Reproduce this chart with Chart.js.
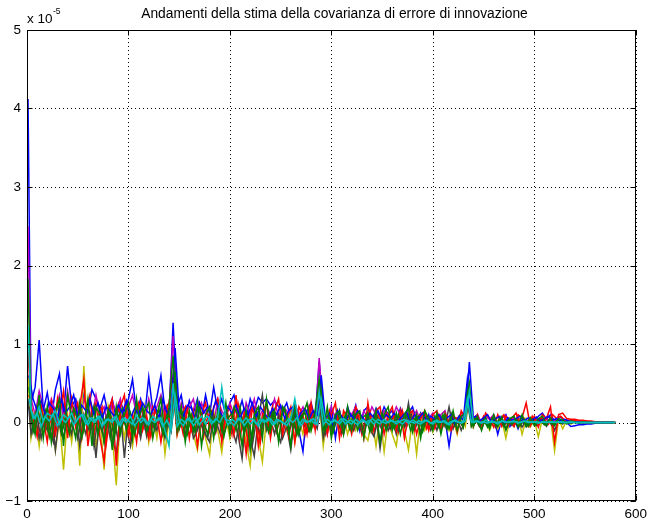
<!DOCTYPE html>
<html>
<head>
<meta charset="utf-8">
<script src="https://cdn.jsdelivr.net/npm/chart.js@4"></script>
<style>
  html, body { margin: 0; padding: 0; background: #fff; }
  #wrap { width: 652px; height: 523px; }
</style>
</head>
<body>
<div id="wrap"><canvas id="c" width="652" height="523"></canvas></div>
<script>
// Innovation-error covariance estimates, one trace per matrix element.
// Values are in units of 1e-5 (the axis carries the "x 10^-5" multiplier).

const titleText = 'Andamenti della stima della covarianza di errore di innovazione';
const xTicks = [0, 100, 200, 300, 400, 500, 600];
const yTicks = [-1, 0, 1, 2, 3, 4, 5];

// sample instants of the first group: 1, then every 4 steps up to 580
const sampleX = [1];
for (let k = 4; k <= 580; k += 4) sampleX.push(k);
// sample instants of the second group: 2, 6, 10, ... 578
const sampleX2 = [];
for (let k = 2; k <= 578; k += 4) sampleX2.push(k);

const covBlue = [
  4.12, 0.25, 0.45, 1.05, 0.15, 0.38, 0.05, 0.42, 0.62, 0.10,
  0.72, 0.20, 0.30, 0.08, 0.35, 0.12, 0.42, 0.30, 0.18, 0.35,
  0.10, 0.30, 0.05, 0.25, 0.15, 0.30, 0.55, 0.12, 0.30, 0.08,
  0.58, 0.15, 0.32, 0.60, 0.15, 0.10, 1.27, 0.20, 0.35, 0.05,
  0.28, 0.12, 0.30, 0.05, 0.35, 0.10, 0.45, 0.15, 0.30, 0.08,
  0.25, 0.35, 0.10, 0.28, 0.05, 0.30, 0.15, 0.32, 0.25, 0.30,
  0.22, 0.28, 0.20, 0.15, 0.25, 0.05, 0.20, -0.10, -0.37, 0.15,
  0.25, 0.05, 0.78, 0.10, -0.10, 0.20, -0.20, 0.15, -0.05, 0.20,
  0.05, 0.22, -0.10, 0.15, 0.20, 0.02, 0.18, 0.05, 0.20, 0.10,
  0.15, 0.00, 0.18, 0.05, 0.12, 0.20, 0.02, 0.12, -0.05, 0.10,
  -0.10, 0.08, -0.08, 0.05, -0.30, 0.05, -0.12, 0.08, 0.00, 0.77,
  0.05, 0.10, -0.08, 0.06, -0.05, 0.08, -0.15, 0.05, 0.10, -0.05,
  0.06, -0.08, 0.04, -0.05, 0.06, 0.02, 0.08, 0.12, 0.04, 0.10,
  0.02, 0.08, 0.05, 0.00, -0.05, -0.04, -0.03, -0.03, -0.02, -0.02,
  -0.01, -0.01, 0.00, 0.00, 0.00, 0.00
];

const covGreen = [
  1.83, 0.10, -0.15, 0.35, -0.20, 0.20, -0.25, 0.15, 0.30, -0.30,
  0.35, 0.05, -0.20, 0.25, -0.10, 0.30, -0.30, 0.20, 0.10, -0.25,
  0.15, -0.35, 0.20, -0.15, 0.10, 0.25, -0.20, 0.30, -0.10, 0.15,
  0.25, -0.20, 0.10, 0.30, -0.15, 0.20, 0.85, -0.10, 0.20, -0.25,
  0.15, -0.10, 0.25, -0.30, 0.10, 0.20, -0.20, 0.15, -0.10, 0.25,
  -0.15, 0.20, 0.10, -0.30, 0.15, -0.35, 0.10, 0.20, -0.20, 0.30,
  -0.10, 0.15, -0.25, 0.20, 0.10, -0.30, 0.20, -0.15, 0.10, 0.25,
  -0.10, 0.15, 0.55, -0.10, 0.20, -0.20, 0.10, 0.15, -0.15, 0.20,
  -0.10, 0.10, 0.15, -0.20, 0.12, -0.10, 0.15, -0.25, 0.10, 0.20,
  -0.10, 0.12, -0.15, 0.10, 0.18, -0.12, 0.10, -0.20, 0.15, 0.05,
  -0.10, 0.12, -0.15, 0.10, -0.08, 0.15, -0.10, 0.08, 0.12, 0.50,
  -0.05, 0.08, -0.10, 0.06, -0.08, 0.10, -0.05, 0.07, -0.10, 0.05,
  0.08, -0.06, 0.10, -0.05, 0.06, -0.04, 0.05, 0.08, -0.03, 0.06,
  -0.04, 0.05, 0.03, -0.02, 0.02, 0.01, -0.01, 0.01, 0.00, 0.00,
  0.00, 0.00, 0.00, 0.00, 0.00, 0.00
];

const covRed = [
  0.90, 0.20, -0.10, 0.30, 0.05, -0.25, 0.25, -0.15, 0.10, 0.40,
  -0.20, 0.30, -0.05, 0.20, 0.55, -0.30, 0.10, 0.25, -0.20, -0.50,
  0.15, 0.30, -0.55, 0.20, 0.35, -0.15, 0.10, -0.25, 0.25, 0.05,
  -0.20, 0.20, 0.10, -0.25, 0.15, 0.25, 0.60, -0.15, 0.10, 0.20,
  -0.20, 0.15, -0.30, 0.10, 0.25, -0.10, 0.20, 0.30, -0.25, 0.10,
  0.20, -0.15, 0.25, 0.05, -0.40, 0.15, 0.20, -0.30, 0.10, 0.25,
  -0.20, 0.15, 0.30, -0.15, 0.05, 0.20, -0.25, 0.20, 0.10, -0.15,
  0.25, -0.10, 0.45, 0.20, -0.15, 0.10, 0.25, -0.20, 0.15, 0.05,
  -0.15, 0.20, 0.10, -0.20, 0.25, -0.10, 0.15, 0.20, -0.15, 0.10,
  0.20, -0.10, 0.15, -0.20, 0.10, 0.15, -0.15, 0.05, 0.15, -0.10,
  0.10, 0.15, -0.10, 0.12, -0.05, 0.10, -0.12, 0.15, 0.05, 0.40,
  -0.05, 0.10, -0.08, 0.12, 0.05, -0.06, 0.10, -0.05, 0.08, 0.03,
  -0.05, 0.10, 0.06, 0.25, -0.04, 0.08, -0.06, 0.10, 0.05, 0.20,
  -0.25, 0.10, 0.12, 0.05, 0.04, 0.04, 0.03, 0.03, 0.02, 0.02,
  0.01, 0.01, 0.01, 0.00, 0.00, 0.00
];

const covCyan = [
  1.23, 0.15, 0.05, 0.20, 0.02, 0.12, 0.08, 0.15, -0.02, 0.10,
  0.05, 0.12, 0.00, 0.08, 0.10, -0.03, 0.06, 0.02, 0.08, -0.02,
  0.05, 0.00, 0.08, -0.04, 0.06, 0.02, -0.02, 0.10, 0.00, 0.05,
  -0.03, 0.08, 0.02, 0.06, -0.10, -0.30, 0.50, -0.05, 0.04, 0.00,
  0.06, -0.04, 0.03, 0.08, -0.02, 0.05, 0.00, 0.06, 0.45, 0.04,
  0.02, -0.04, 0.05, 0.00, 0.06, -0.02, 0.03, -0.05, 0.04, 0.01,
  0.05, -0.02, 0.03, 0.00, -0.04, 0.05, 0.30, -0.03, 0.04, 0.00,
  0.03, -0.02, 0.40, -0.03, 0.04, 0.00, 0.03, -0.02, 0.05, 0.01,
  -0.02, 0.04, 0.00, 0.03, -0.03, 0.05, 0.01, -0.02, 0.04, 0.00,
  0.03, -0.02, 0.02, 0.04, -0.01, 0.03, 0.00, -0.02, 0.03, 0.01,
  -0.02, 0.03, 0.00, 0.02, -0.03, 0.02, 0.01, -0.01, 0.02, 0.40,
  0.00, 0.02, -0.01, 0.03, 0.00, 0.01, -0.02, 0.02, 0.00, 0.01,
  0.02, -0.01, 0.01, 0.02, 0.00, 0.01, -0.01, 0.01, 0.00, 0.01,
  0.00, 0.01, 0.00, 0.00, 0.01, 0.00, 0.00, 0.00, 0.00, 0.00,
  0.00, 0.00, 0.00, 0.00, 0.00, 0.00
];

const covMagenta = [
  2.50, 0.30, 0.10, 0.40, 0.20, 0.05, 0.30, 0.15, 0.35, 0.05,
  0.40, 0.10, 0.25, -0.05, 0.30, 0.20, 0.05, 0.35, 0.10, 0.20,
  -0.05, 0.25, 0.15, 0.30, 0.05, 0.20, 0.35, 0.10, 0.25, -0.05,
  0.30, 0.10, 0.20, 0.35, 0.05, 0.15, 1.10, 0.05, 0.25, 0.10,
  0.20, 0.30, 0.05, 0.25, 0.10, 0.20, -0.05, 0.30, 0.15, 0.05,
  0.25, 0.10, 0.20, -0.05, 0.25, 0.10, 0.30, 0.05, 0.15, 0.20,
  0.10, 0.30, 0.05, 0.20, 0.15, -0.05, 0.25, 0.10, 0.20, 0.05,
  0.20, -0.05, 0.82, 0.10, -0.15, 0.20, 0.05, 0.15, -0.05, 0.15,
  0.10, 0.20, -0.05, 0.15, 0.05, 0.20, 0.10, -0.05, 0.15, 0.10,
  0.05, 0.20, 0.10, -0.05, 0.12, 0.05, 0.15, 0.00, 0.10, 0.05,
  0.12, 0.00, 0.10, 0.15, -0.05, 0.08, 0.05, 0.12, 0.02, 0.30,
  0.05, 0.10, 0.00, 0.08, 0.04, 0.10, -0.02, 0.06, 0.08, 0.02,
  0.06, 0.03, 0.08, 0.00, 0.05, 0.06, 0.02, 0.05, 0.04, 0.03,
  0.02, 0.04, 0.02, 0.01, 0.01, 0.01, 0.00, 0.00, 0.00, 0.00,
  0.00, 0.00, 0.00, 0.00, 0.00, 0.00
];

const covYellow = [
  0.60, -0.20, 0.10, -0.30, 0.15, -0.10, 0.20, -0.35, 0.05, -0.60,
  0.10, -0.25, 0.20, -0.55, 0.72, -0.20, 0.15, -0.30, 0.05, -0.60,
  0.20, -0.15, -0.80, 0.10, -0.20, 0.15, -0.30, 0.05, -0.15, 0.20,
  -0.25, 0.10, -0.20, 0.15, -0.40, 0.05, 0.45, -0.15, 0.10, -0.20,
  0.05, -0.15, -0.35, 0.10, -0.20, -0.41, 0.15, -0.10, -0.38, 0.05,
  -0.20, 0.10, -0.15, 0.05, -0.25, -0.55, 0.10, -0.20, -0.50, 0.05,
  -0.15, 0.10, -0.20, 0.05, -0.10, 0.15, -0.25, 0.05, -0.15, 0.10,
  -0.10, 0.05, 0.30, -0.30, 0.10, -0.15, 0.05, -0.10, 0.10, -0.15,
  0.05, -0.10, 0.10, -0.15, -0.23, 0.05, -0.30, 0.10, -0.37, 0.05,
  -0.15, -0.30, 0.10, -0.10, -0.35, 0.05, -0.40, 0.08, -0.10, 0.05,
  -0.12, 0.05, -0.08, 0.10, -0.10, 0.05, -0.15, 0.08, -0.05, 0.35,
  -0.05, 0.08, -0.06, 0.04, -0.10, 0.05, -0.08, 0.03, -0.20, 0.05,
  -0.05, 0.08, -0.15, 0.05, -0.06, 0.03, -0.18, 0.05, -0.04, 0.06,
  -0.36, 0.05, -0.08, 0.03, -0.02, 0.01, -0.01, 0.00, 0.00, 0.00,
  0.00, 0.00, 0.00, 0.00, 0.00, 0.00
];

const covGray = [
  0.30, -0.15, 0.10, -0.20, 0.05, -0.10, 0.15, -0.35, 0.10, -0.20,
  0.05, -0.15, 0.20, -0.30, 0.10, -0.10, 0.05, -0.45, 0.15, -0.25,
  0.10, -0.20, -0.40, 0.15, -0.45, 0.10, -0.15, 0.05, -0.20, 0.10,
  -0.15, 0.05, -0.10, 0.10, -0.20, 0.05, 0.40, -0.10, 0.05, -0.15,
  0.10, -0.20, -0.10, 0.05, -0.15, -0.25, 0.10, -0.05, -0.20, 0.10,
  -0.10, 0.05, -0.15, -0.46, 0.10, -0.20, -0.43, 0.05, 0.35, -0.10,
  0.05, -0.15, 0.10, -0.20, -0.05, -0.35, 0.10, -0.15, 0.05, -0.10,
  0.10, -0.05, 0.30, -0.20, 0.05, -0.10, 0.10, -0.05, -0.15, 0.05,
  -0.10, 0.10, -0.05, -0.15, 0.05, -0.10, 0.08, -0.33, 0.05, -0.10,
  0.05, -0.15, 0.10, -0.05, 0.25, -0.10, 0.05, -0.12, 0.08, -0.05,
  0.05, -0.10, 0.08, -0.05, 0.20, -0.08, 0.05, -0.10, 0.03, 0.30,
  -0.04, 0.06, -0.05, 0.03, -0.06, 0.05, -0.04, 0.06, -0.08, 0.03,
  -0.04, 0.05, -0.06, 0.03, -0.04, 0.05, -0.02, 0.04, -0.05, 0.03,
  -0.10, 0.03, -0.02, 0.02, -0.01, 0.01, 0.00, 0.00, 0.00, 0.00,
  0.00, 0.00, 0.00, 0.00, 0.00, 0.00
];

// second group of elements, sampled on sampleX2
const covBlue2 = [
  0.60, 0.30, 0.15, 0.28, 0.10, 0.25, 0.18, 0.05, 0.30, 0.12,
  0.20, 0.35, 0.08, 0.22, 0.15, 0.30, 0.10, 0.25, 0.05, 0.20,
  0.15, 0.08, 0.22, 0.12, 0.28, 0.05, 0.18, 0.10, 0.25, 0.15,
  0.10, 0.22, 0.05, 0.30, 0.12, 0.20, 0.95, 0.15, 0.08, 0.22,
  0.18, 0.05, 0.25, 0.12, 0.20, 0.08, 0.28, 0.15, 0.05, 0.20,
  0.12, 0.22, 0.05, 0.18, 0.10, 0.25, 0.08, 0.20, 0.12, 0.05,
  0.18, 0.10, 0.22, 0.05, 0.15, 0.20, 0.02, 0.12, 0.18, 0.05,
  0.15, 0.10, 0.60, 0.05, 0.12, -0.05, 0.15, 0.08, 0.02, 0.12,
  0.05, 0.15, 0.08, 0.00, 0.12, 0.06, 0.15, 0.02, 0.10, 0.05,
  0.12, 0.02, 0.08, 0.14, 0.00, 0.10, 0.05, 0.12, 0.02, 0.08,
  0.04, 0.10, 0.00, 0.06, 0.10, -0.02, 0.08, 0.03, 0.55, 0.05,
  0.08, 0.02, 0.06, 0.10, 0.00, 0.05, 0.08, -0.02, 0.06, 0.03,
  0.05, 0.08, 0.02, 0.06, 0.03, 0.07, 0.02, 0.05, 0.08, 0.03,
  0.05, 0.02, 0.04, 0.02, 0.01, 0.01, 0.00, 0.00, 0.00, 0.00,
  0.00, 0.00, 0.00, 0.00, 0.00
];

const covGreen2 = [
  0.45, -0.10, 0.20, -0.05, 0.15, -0.18, 0.10, 0.22, -0.12, 0.08,
  -0.15, 0.18, 0.05, -0.20, 0.12, -0.08, 0.20, -0.15, 0.10, -0.05,
  0.15, -0.20, 0.08, 0.18, -0.10, 0.12, -0.15, 0.05, 0.20, -0.12,
  0.08, -0.05, 0.18, -0.15, 0.10, 0.05, 0.65, -0.08, 0.12, -0.15,
  0.10, -0.12, 0.18, 0.02, -0.15, 0.12, -0.08, 0.15, -0.18, 0.05,
  0.12, -0.10, 0.20, -0.15, 0.05, -0.20, 0.15, -0.05, 0.10, -0.12,
  0.15, -0.08, 0.05, 0.18, -0.12, 0.10, -0.15, 0.08, 0.12, -0.10,
  0.05, 0.12, 0.45, -0.10, 0.08, -0.12, 0.15, -0.05, 0.10, -0.08,
  0.12, -0.10, 0.05, 0.10, -0.12, 0.08, -0.05, 0.12, -0.10, 0.06,
  -0.08, 0.10, -0.05, 0.12, -0.10, 0.05, 0.08, -0.12, 0.06, -0.04,
  0.08, -0.06, 0.10, -0.08, 0.05, -0.04, 0.08, -0.06, 0.45, -0.05,
  0.06, -0.04, 0.05, -0.06, 0.04, -0.03, 0.06, -0.05, 0.04, -0.02,
  0.05, -0.04, 0.03, -0.05, 0.04, -0.02, 0.03, -0.03, 0.02, -0.02,
  0.02, -0.01, 0.01, -0.01, 0.01, 0.00, 0.00, 0.00, 0.00, 0.00,
  0.00, 0.00, 0.00, 0.00, 0.00
];

const covRed2 = [
  0.35, 0.10, -0.18, 0.22, -0.08, 0.15, -0.22, 0.30, -0.05, 0.18,
  -0.12, 0.10, 0.25, -0.20, 0.15, 0.35, -0.15, 0.08, 0.20, -0.28,
  0.10, -0.15, 0.22, -0.05, 0.18, -0.20, 0.12, 0.25, -0.10, 0.08,
  -0.18, 0.15, 0.05, -0.12, 0.20, -0.08, 0.50, 0.10, -0.15, 0.18,
  -0.10, 0.12, 0.25, -0.18, 0.08, 0.15, -0.12, 0.20, -0.05, 0.10,
  -0.15, 0.35, -0.20, 0.12, -0.30, 0.18, 0.05, -0.25, 0.15, -0.10,
  0.20, -0.12, 0.08, 0.15, -0.18, 0.10, -0.08, 0.12, -0.15, 0.20,
  -0.05, 0.10, 0.40, -0.12, 0.15, -0.08, 0.10, -0.15, 0.12, 0.05,
  -0.10, 0.12, -0.15, 0.08, 0.15, -0.12, 0.10, -0.05, 0.12, -0.08,
  0.10, -0.12, 0.15, -0.05, 0.10, -0.10, 0.08, 0.12, -0.08, 0.05,
  -0.08, 0.10, -0.05, 0.08, -0.10, 0.06, 0.04, -0.06, 0.40, -0.04,
  0.06, -0.05, 0.08, -0.04, 0.05, -0.06, 0.04, 0.10, -0.05, 0.06,
  0.12, -0.04, 0.05, -0.05, 0.08, -0.03, 0.06, 0.04, -0.02, 0.10,
  0.05, 0.08, 0.03, 0.03, 0.03, 0.02, 0.02, 0.02, 0.01, 0.01,
  0.01, 0.00, 0.00, 0.00, 0.00
];

const covCyan2 = [
  0.30, 0.05, 0.12, -0.05, 0.08, 0.02, 0.10, -0.04, 0.06, 0.00,
  0.08, -0.03, 0.05, 0.10, -0.02, 0.06, 0.00, 0.08, -0.05, 0.04,
  0.02, 0.07, -0.03, 0.05, 0.00, 0.08, -0.04, 0.03, 0.06, -0.02,
  0.04, 0.00, 0.06, -0.05, 0.03, -0.10, 0.35, 0.02, -0.04, 0.05,
  0.00, 0.06, -0.03, 0.04, 0.08, -0.02, 0.05, 0.00, 0.10, -0.03,
  0.04, 0.00, 0.06, -0.04, 0.03, 0.05, -0.02, 0.04, 0.00, 0.06,
  -0.03, 0.04, 0.02, -0.02, 0.05, 0.00, 0.06, -0.04, 0.03, 0.01,
  0.05, -0.02, 0.30, 0.02, -0.03, 0.04, 0.00, 0.05, -0.02, 0.03,
  0.01, -0.03, 0.04, 0.00, 0.03, -0.02, 0.04, 0.01, -0.01, 0.03,
  0.00, 0.02, -0.02, 0.03, 0.01, -0.01, 0.02, 0.00, 0.03, -0.01,
  0.02, 0.00, 0.02, -0.02, 0.01, 0.03, 0.00, 0.01, 0.30, 0.00,
  0.02, 0.00, 0.01, -0.01, 0.02, 0.00, 0.01, 0.02, 0.00, 0.01,
  0.01, 0.00, 0.02, 0.00, 0.01, 0.01, 0.00, 0.01, 0.00, 0.01,
  0.00, 0.01, 0.00, 0.00, 0.00, 0.00, 0.00, 0.00, 0.00, 0.00,
  0.00, 0.00, 0.00, 0.00, 0.00
];

const covGray2 = [
  0.20, -0.12, 0.05, -0.20, 0.10, -0.05, -0.25, 0.08, -0.15, 0.05,
  -0.10, 0.12, -0.20, 0.05, -0.15, 0.10, -0.30, 0.05, -0.12, 0.08,
  -0.20, 0.05, -0.25, 0.10, -0.08, -0.30, 0.05, -0.12, 0.10, -0.18,
  0.05, -0.10, 0.08, -0.15, 0.02, -0.12, 0.35, -0.08, 0.05, -0.12,
  0.08, -0.15, 0.02, -0.10, -0.20, 0.05, -0.12, 0.08, -0.15, 0.02,
  -0.08, -0.25, 0.05, -0.12, 0.10, -0.30, 0.02, -0.15, 0.05, -0.10,
  0.08, -0.12, -0.25, 0.05, -0.10, 0.02, -0.15, 0.08, -0.05, -0.12,
  0.05, -0.08, 0.25, -0.15, 0.02, -0.10, 0.05, -0.12, 0.08, -0.05,
  -0.10, 0.05, -0.12, 0.02, -0.08, -0.18, 0.05, -0.10, 0.03, -0.08,
  0.02, -0.10, 0.05, -0.06, 0.15, -0.08, 0.02, -0.05, 0.06, -0.10,
  0.03, -0.06, 0.05, -0.08, 0.12, -0.04, 0.02, -0.06, 0.25, -0.03,
  0.04, -0.05, 0.02, -0.04, 0.05, -0.06, 0.03, -0.03, 0.02, -0.04,
  0.03, -0.02, 0.04, -0.03, 0.02, -0.04, 0.01, -0.02, 0.03, -0.05,
  0.02, -0.01, 0.01, -0.01, 0.00, 0.00, 0.00, 0.00, 0.00, 0.00,
  0.00, 0.00, 0.00, 0.00, 0.00
];

// MATLAB-style colour cycle; lower "order" is painted later (on top)
const traces = [
  { values: covBlue,    xs: sampleX,  color: '#0000ff', order: 11 },
  { values: covGreen,   xs: sampleX,  color: '#008000', order: 2 },
  { values: covRed,     xs: sampleX,  color: '#ff0000', order: 5 },
  { values: covCyan,    xs: sampleX,  color: '#00bfbf', order: 1 },
  { values: covMagenta, xs: sampleX,  color: '#bf00bf', order: 9 },
  { values: covYellow,  xs: sampleX,  color: '#bfbf00', order: 8 },
  { values: covGray,    xs: sampleX,  color: '#404040', order: 7 },
  { values: covBlue2,   xs: sampleX2, color: '#0000ff', order: 3 },
  { values: covGreen2,  xs: sampleX2, color: '#008000', order: 4 },
  { values: covRed2,    xs: sampleX2, color: '#ff0000', order: 6.5 },
  { values: covCyan2,   xs: sampleX2, color: '#00bfbf', order: 0 },
  { values: covGray2,   xs: sampleX2, color: '#404040', order: 6 }
];

const FONT = '"Liberation Sans", Arial, Helvetica, sans-serif';

const axesFrame = {
  id: 'axesFrame',
  beforeDatasetsDraw(chart) {
    const { ctx, chartArea: a, scales: { x, y } } = chart;
    ctx.save();
    ctx.strokeStyle = '#000';
    ctx.lineWidth = 1;
    ctx.setLineDash([1, 3]);
    xTicks.forEach(v => {
      const px = Math.round(x.getPixelForValue(v)) + 0.5;
      ctx.beginPath(); ctx.moveTo(px, a.top); ctx.lineTo(px, a.bottom); ctx.stroke();
    });
    yTicks.forEach(v => {
      const py = Math.round(y.getPixelForValue(v)) + 0.5;
      ctx.beginPath(); ctx.moveTo(a.left, py); ctx.lineTo(a.right, py); ctx.stroke();
    });
    ctx.restore();
  },
  afterDatasetsDraw(chart) {
    const { ctx, chartArea: a, scales: { x, y } } = chart;
    const L = Math.round(a.left) + 0.5, R = Math.round(a.right) - 0.5;
    const T = Math.round(a.top) + 0.5, B = Math.round(a.bottom) - 0.5;
    const tl = 5;
    ctx.save();
    ctx.strokeStyle = '#000';
    ctx.lineWidth = 1;
    ctx.setLineDash([]);
    ctx.strokeRect(L, T, R - L, B - T);
    ctx.beginPath();
    xTicks.forEach(v => {
      const px = Math.round(x.getPixelForValue(v)) + 0.5;
      ctx.moveTo(px, B); ctx.lineTo(px, B - tl);
      ctx.moveTo(px, T); ctx.lineTo(px, T + tl);
    });
    yTicks.forEach(v => {
      const py = Math.round(y.getPixelForValue(v)) + 0.5;
      ctx.moveTo(L, py); ctx.lineTo(L + tl, py);
      ctx.moveTo(R, py); ctx.lineTo(R - tl, py);
    });
    ctx.stroke();
    ctx.restore();
  },
  afterDraw(chart) {
    const { ctx, chartArea: a } = chart;
    ctx.save();
    ctx.fillStyle = '#000';
    ctx.textBaseline = 'alphabetic';
    ctx.textAlign = 'center';
    ctx.font = '13.8px ' + FONT;
    ctx.fillText(titleText, 334.5, 17.5);
    // exponent multiplier above the y axis
    ctx.textAlign = 'left';
    ctx.font = '13.5px ' + FONT;
    const base = 'x 10';
    ctx.fillText(base, a.left, 23);
    const w = ctx.measureText(base).width;
    ctx.font = '8.5px ' + FONT;
    ctx.fillText('-5', a.left + w + 0.5, 14);
    ctx.restore();
  }
};

const fmtTick = v => (v < 0 ? '\u2212' + Math.abs(v) : String(v));

new Chart(document.getElementById('c'), {
  type: 'line',
  data: {
    datasets: traces.map(t => ({
      data: t.values.map((v, i) => ({ x: t.xs[i], y: v })),
      borderColor: t.color,
      backgroundColor: t.color,
      borderWidth: 1.5,
      pointRadius: 0,
      tension: 0,
      fill: false,
      order: t.order
    }))
  },
  options: {
    responsive: false,
    animation: false,
    events: [],
    layout: { padding: { top: 30, right: 11, left: 0, bottom: 0 } },
    plugins: { legend: { display: false }, tooltip: { enabled: false }, title: { display: false } },
    scales: {
      x: {
        type: 'linear', min: 0, max: 600,
        afterFit(s) { s.height = 22; },
        grid: { display: false, drawTicks: false },
        border: { display: false },
        afterBuildTicks(s) { s.ticks = xTicks.map(v => ({ value: v })); },
        ticks: { color: '#000', font: { family: FONT, size: 13.5 }, padding: 5, maxRotation: 0, autoSkip: false, callback: fmtTick }
      },
      y: {
        type: 'linear', min: -1, max: 5,
        afterFit(s) { s.width = 27; },
        grid: { display: false, drawTicks: false },
        border: { display: false },
        afterBuildTicks(s) { s.ticks = yTicks.map(v => ({ value: v })); },
        ticks: { color: '#000', font: { family: FONT, size: 13.5 }, padding: 6, autoSkip: false, callback: fmtTick }
      }
    }
  },
  plugins: [axesFrame]
});
</script>
</body>
</html>
